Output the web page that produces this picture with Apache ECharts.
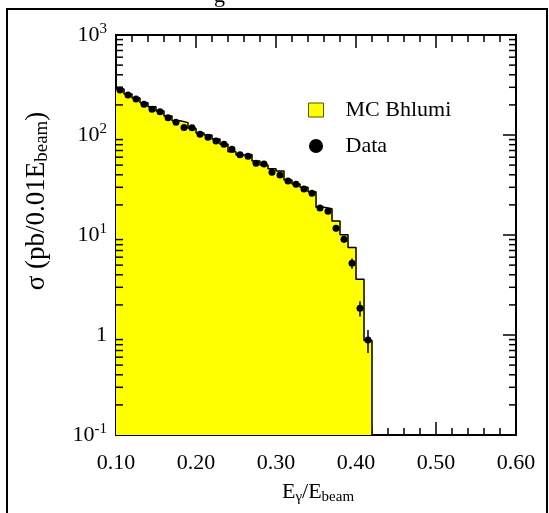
<!DOCTYPE html>
<html>
<head>
<meta charset="utf-8">
<script src="https://cdn.jsdelivr.net/npm/echarts@6/dist/echarts.min.js"></script>
<style>
  html, body { margin: 0; padding: 0; background: #fff; }
  #chart { width: 549px; height: 513px; }
</style>
</head>
<body>
<div id="chart"></div>
<script>
// Photon energy spectrum: 0.01-wide bins in E_gamma/E_beam
const binLow = [0.10, 0.11, 0.12, 0.13, 0.14, 0.15, 0.16, 0.17, 0.18, 0.19,
                0.20, 0.21, 0.22, 0.23, 0.24, 0.25, 0.26, 0.27, 0.28, 0.29,
                0.30, 0.31, 0.32, 0.33, 0.34, 0.35, 0.36, 0.37, 0.38, 0.39,
                0.40, 0.41];
const binWidth = 0.01;

// Monte Carlo (Bhlumi) prediction per bin, pb / 0.01 E_beam
const mcBhlumi = [288, 257, 234, 210, 192, 174, 155, 139, 133, 117,
                  105, 100, 91, 81, 68, 63, 64, 55, 50, 46,
                  43.7, 35.5, 32.4, 30, 27, 18.9, 18.3, 13.8, 10.05, 7.5,
                  3.6, 0.88];

// Measured cross section per bin and its uncertainty
const dataSigma = [282, 251, 229, 203, 181, 171, 149, 134, 119, 118,
                   102, 94.8, 87.1, 80.7, 71.9, 63.6, 61.2, 52.1, 51.3, 42.4,
                   39.8, 34.7, 32.1, 28.8, 26.1, 18.6, 17.3, 11.7, 9.06, 5.21,
                   1.85, 0.89];
const dataErr = [4.2, 4.0, 3.8, 3.6, 3.4, 3.3, 3.1, 2.9, 2.7, 2.7,
                 2.5, 2.4, 2.3, 2.2, 2.1, 2.0, 1.9, 1.8, 1.8, 1.6,
                 1.6, 1.5, 1.4, 1.3, 1.3, 1.1, 1.0, 0.85, 0.75, 0.6,
                 0.32, 0.23];

// Axis ranges and labels
const xMin = 0.10, xMax = 0.60, xStep = 0.10;
const yMin = 0.1, yMax = 1000;
const yTickLabels = {
  '0.1': '{b|10}{s|-1}',
  '1': '{b|1}',
  '10': '{b|10}{s|1}',
  '100': '{b|10}{s|2}',
  '1000': '{b|10}{s|3}'
};
// Minor tick values inside each decade of the log axis
const yMinorTicks = [0.2, 0.3, 0.4, 0.5, 0.6, 0.7, 0.8, 0.9,
                     2, 3, 4, 5, 6, 7, 8, 9,
                     20, 30, 40, 50, 60, 70, 80, 90,
                     200, 300, 400, 500, 600, 700, 800, 900];

const FONT = '"Liberation Serif", "DejaVu Serif", serif';

const histRects = binLow.map((lo, i) => [lo, +(lo + binWidth).toFixed(2), mcBhlumi[i]]);
const lastHigh = +(binLow[binLow.length - 1] + binWidth).toFixed(2);
const histOutline = binLow.map((lo, i) => [lo, mcBhlumi[i]])
  .concat([[lastHigh, mcBhlumi[mcBhlumi.length - 1]], [lastHigh, yMin]]);
const binCenters = binLow.map(lo => +(lo + binWidth / 2).toFixed(3));
const dataPoints = binCenters.map((c, i) => [c, dataSigma[i]]);
const errorBars = binCenters.map((c, i) => [c, dataSigma[i] - dataErr[i], dataSigma[i] + dataErr[i]]);

const chart = echarts.init(document.getElementById('chart'), null, { renderer: 'canvas' });

const axisLine = { show: true, lineStyle: { color: '#000', width: 2 } };
const majorTick = { show: true, inside: true, length: 13, lineStyle: { color: '#000', width: 1.5 } };
const xMinor = { show: true, splitNumber: 5, length: 7, lineStyle: { color: '#000', width: 1.5 } };

chart.setOption({
  animation: false,
  backgroundColor: '#fff',
  grid: { left: 116, right: 33, top: 35, bottom: 78 },
  legend: {
    orient: 'vertical',
    left: 308,
    top: 99,
    padding: 0,
    itemWidth: 15,
    itemHeight: 14,
    itemGap: 14,
    selectedMode: false,
    textStyle: { fontFamily: FONT, fontSize: 22, color: '#000', padding: [0, 0, 0, 17] },
    data: [
      { name: 'MC Bhlumi', icon: 'rect', itemStyle: { color: '#ffff00', borderColor: '#555500', borderWidth: 1, opacity: 1 } },
      { name: 'Data', icon: 'circle', itemStyle: { color: '#000', borderWidth: 0, opacity: 1 } }
    ]
  },
  xAxis: [
    {
      type: 'value', position: 'bottom', min: xMin, max: xMax, interval: xStep,
      axisLine, axisTick: majorTick, minorTick: xMinor,
      splitLine: { show: false }, minorSplitLine: { show: false },
      axisLabel: { fontFamily: FONT, fontSize: 22, color: '#000', margin: 17,
                   formatter: v => v.toFixed(2) }
    },
    {
      type: 'value', position: 'top', min: xMin, max: xMax, interval: xStep,
      axisLine, axisTick: majorTick, minorTick: xMinor,
      splitLine: { show: false }, minorSplitLine: { show: false },
      axisLabel: { show: false }
    }
  ],
  yAxis: [
    {
      type: 'log', logBase: 10, position: 'left', min: yMin, max: yMax,
      axisLine, axisTick: majorTick,
      splitLine: { show: false },
      axisLabel: {
        fontFamily: FONT, color: '#000', margin: 9,
        formatter: v => yTickLabels[String(+v.toPrecision(6))] || '',
        rich: {
          b: { fontFamily: FONT, fontSize: 22, color: '#000', lineHeight: 26 },
          s: { fontFamily: FONT, fontSize: 15, color: '#000', lineHeight: 12, verticalAlign: 'top' }
        }
      }
    },
    {
      type: 'log', logBase: 10, position: 'right', min: yMin, max: yMax,
      axisLine, axisTick: majorTick,
      splitLine: { show: false },
      axisLabel: { show: false }
    }
  ],
  graphic: [
    {
      type: 'rect', silent: true, z: 100,
      shape: { x: 7, y: 9, width: 540, height: 520 },
      style: { fill: 'none', stroke: '#000', lineWidth: 2 }
    },
    {
      type: 'text', silent: true, left: 214, top: -15,
      style: { text: 'g', fontFamily: FONT, fontSize: 22, fill: '#000' }
    },
    {
      type: 'text', silent: true, x: 318, y: 492,
      style: {
        text: '{n|E}{s|γ}{n|/E}{s|beam}',
        textAlign: 'center', textVerticalAlign: 'middle',
        rich: {
          n: { fontFamily: FONT, fontSize: 22, fill: '#000', lineHeight: 26 },
          s: { fontFamily: FONT, fontSize: 15, fill: '#000', lineHeight: 10, verticalAlign: 'bottom' }
        }
      }
    },
    {
      type: 'text', silent: true, x: 37, y: 201, rotation: Math.PI / 2,
      style: {
        text: '{n|σ (pb/0.01E}{s|beam}{n|)}',
        textAlign: 'center', textVerticalAlign: 'middle',
        rich: {
          n: { fontFamily: FONT, fontSize: 27, fill: '#000', lineHeight: 30 },
          s: { fontFamily: FONT, fontSize: 19, fill: '#000', lineHeight: 10, verticalAlign: 'bottom' }
        }
      }
    }
  ],
  series: [
    {
      name: 'MC Bhlumi',
      type: 'custom',
      data: histRects,
      encode: { x: [0, 1], y: 2 },
      z: 1,
      renderItem: (params, api) => {
        const p0 = api.coord([api.value(0), api.value(2)]);
        const p1 = api.coord([api.value(1), yMin]);
        return {
          type: 'rect',
          shape: { x: p0[0], y: p0[1], width: p1[0] - p0[0] + 0.5, height: p1[1] - p0[1] },
          style: { fill: '#ffff00', stroke: null }
        };
      }
    },
    {
      name: 'MC outline',
      type: 'line',
      step: 'end',
      data: histOutline,
      showSymbol: false,
      symbol: 'none',
      z: 2,
      lineStyle: { color: '#000', width: 1.5 },
      silent: true
    },
    {
      name: 'y minor ticks',
      type: 'custom',
      data: yMinorTicks.map(v => [xMin, v]),
      z: 5,
      silent: true,
      renderItem: (params, api) => {
        const cs = params.coordSys;
        const py = api.coord([xMin, api.value(1)])[1];
        const style = { stroke: '#000', lineWidth: 1.5 };
        return {
          type: 'group',
          children: [
            { type: 'line', shape: { x1: cs.x, y1: py, x2: cs.x + 7, y2: py }, style },
            { type: 'line', shape: { x1: cs.x + cs.width - 7, y1: py, x2: cs.x + cs.width, y2: py }, style }
          ]
        };
      }
    },
    {
      name: 'Data errors',
      type: 'custom',
      data: errorBars,
      encode: { x: 0, y: [1, 2] },
      z: 3,
      silent: true,
      renderItem: (params, api) => {
        const lo = api.coord([api.value(0), api.value(1)]);
        const hi = api.coord([api.value(0), api.value(2)]);
        return {
          type: 'line',
          shape: { x1: lo[0], y1: lo[1], x2: hi[0], y2: hi[1] },
          style: { stroke: '#000', lineWidth: 1.5 }
        };
      }
    },
    {
      name: 'Data',
      type: 'scatter',
      data: dataPoints,
      symbol: 'circle',
      symbolSize: 7,
      z: 4,
      itemStyle: { color: '#000', opacity: 1 }
    }
  ]
});
</script>
</body>
</html>
